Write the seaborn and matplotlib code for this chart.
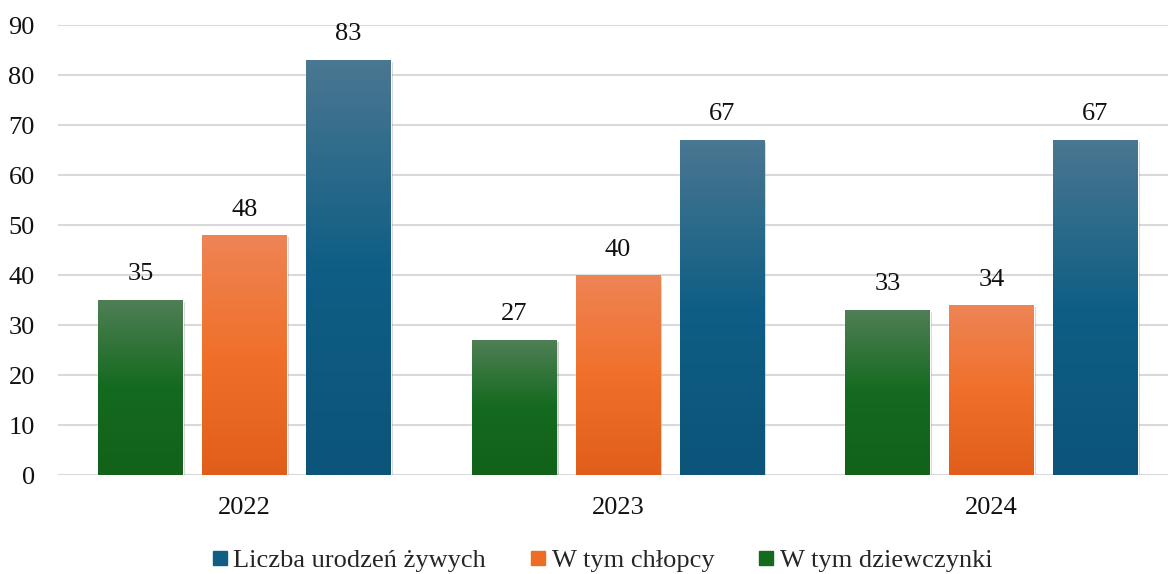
import numpy as np
import pandas as pd
import matplotlib
matplotlib.use("Agg")
import matplotlib.pyplot as plt
import matplotlib.patheffects as pe
from matplotlib.colors import LinearSegmentedColormap
from matplotlib.lines import Line2D
import seaborn as sns

years = ["2022", "2023", "2024"]
series = ["W tym dziewczynki", "W tym chłopcy", "Liczba urodzeń żywych"]
girls = [35, 27, 33]
boys = [48, 40, 34]
total = [83, 67, 67]
legend_order = ["Liczba urodzeń żywych", "W tym chłopcy", "W tym dziewczynki"]

# top / middle / bottom colours of each bar gradient
grad = {
    "W tym dziewczynki": ("#4f7f55", "#146a1e", "#12621a"),
    "W tym chłopcy": ("#ee8455", "#f0702a", "#e05e1a"),
    "Liczba urodzeń żywych": ("#4a7791", "#0f5e85", "#0c5479"),
}
solid = {"W tym dziewczynki": "#146a1e", "W tym chłopcy": "#ed6d26",
         "Liczba urodzeń żywych": "#115e84"}

df = pd.DataFrame({
    "year": years * 3,
    "series": [series[0]] * 3 + [series[1]] * 3 + [series[2]] * 3,
    "value": girls + boys + total,
})

sns.set_style("white")
plt.rcParams["font.family"] = ["Liberation Serif", "DejaVu Serif"]

fig = plt.figure(figsize=(11.68, 5.74), dpi=100)
ax = fig.add_axes([57.75 / 1168, 1 - 475 / 574, 1120.5 / 1168, 450 / 574])

sns.barplot(data=df, x="year", y="value", hue="series", hue_order=series,
            palette=solid, width=0.835, gap=0.184, ax=ax, legend=False,
            zorder=2)

ax.yaxis.grid(True, color="#d9d9d9", linewidth=1.5, zorder=0)
ax.set_axisbelow(True)
for s in ax.spines.values():
    s.set_visible(False)
ax.set_xlabel("")
ax.set_ylabel("")
ax.tick_params(axis="y", labelsize=19, length=0, pad=16.5, labelcolor="#111111")
ax.tick_params(axis="x", labelsize=19, length=0, pad=16, labelcolor="#111111")

# gradient fill + label for each bar
for cont, name in zip(ax.containers, series):
    top, mid, bot = grad[name]
    cmap = LinearSegmentedColormap.from_list(name, [bot, mid, top])
    for bar in cont:
        x0, w, h = bar.get_x(), bar.get_width(), bar.get_height()
        bar.set_path_effects([pe.SimplePatchShadow(offset=(1.5, -1.5), alpha=0.18,
                                                   shadow_rgbFace="#000000"),
                              pe.Normal()])
        img = ax.imshow(np.linspace(0, 1, 256).reshape(-1, 1), cmap=cmap,
                        origin="lower", aspect="auto",
                        extent=[x0, x0 + w, 0, h], zorder=3)
        img.set_clip_path(bar)
        ax.text(x0 + w / 2, h + 5.1, f"{int(h)}", ha="center", va="center",
                fontsize=19, color="#111111")

ax.set_xlim(-0.5, 2.5)
ax.set_ylim(0, 90)
ax.set_yticks(range(0, 91, 10))

handles = [Line2D([], [], marker="s", linestyle="", markersize=10.5,
                  markerfacecolor=solid[n], markeredgecolor=solid[n])
           for n in legend_order]
fig.legend(handles, legend_order, loc="center",
           bbox_to_anchor=(602.5 / 1168, 1 - 560 / 574), ncol=3, frameon=False,
           fontsize=19, handlelength=0.55, handletextpad=0.23, columnspacing=1.7,
           borderpad=0)

fig.savefig("out.png", dpi=100)
